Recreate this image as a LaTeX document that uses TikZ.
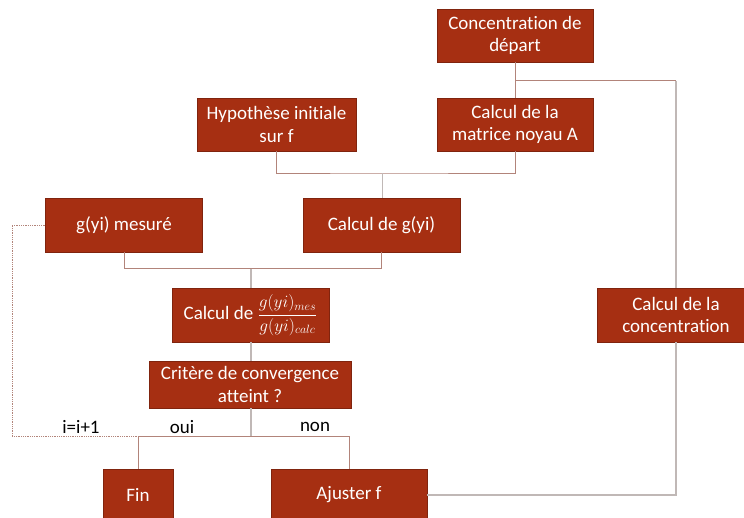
\documentclass[tikz,border=0pt]{standalone}
\usepackage{amsmath}
\usepackage{fontspec}
\setmainfont[Ligatures=NoCommon]{Carlito}
\usetikzlibrary{calc}
\definecolor{boxfill}{RGB}{166,47,18}
\definecolor{boxborder}{RGB}{128,36,14}
\definecolor{lnbrown}{RGB}{178,132,122}
\definecolor{lngrey}{RGB}{192,184,182}
\tikzset{
  box/.style={draw=boxborder, line width=0.8pt, fill=boxfill, text=white, inner sep=0pt, align=center,
    font=\fontsize{19}{22.5}\selectfont},
  lab/.style={text=black, inner sep=0pt, font=\fontsize{19}{22.5}\selectfont},
  bl/.style={draw=lnbrown, line width=0.9pt},
  gl/.style={draw=lngrey, line width=1.2pt},
  dl/.style={draw=lnbrown, line width=0.8pt, densely dotted},
}
\begin{document}
\begin{tikzpicture}[x=1pt,y=-1pt]
\clip (0,0) rectangle (744,517);
\fill[white] (0,0) rectangle (744,517);
% nodes
\node[box, minimum width=156pt, minimum height=53pt] (dep) at (515,35.5) {Concentration de\\départ};
\node[box, minimum width=159pt, minimum height=53pt] (hyp) at (276.5,124.5) {Hypothèse initiale\\sur f};
\node[box, minimum width=156pt, minimum height=53pt] (mat) at (515,124.5) {Calcul de la\\matrice noyau A};
\node[box, minimum width=157pt, minimum height=54pt] (mes) at (124,225) {g(yi) mesuré};
\node[box, minimum width=157pt, minimum height=54pt] (calc) at (381.5,225) {Calcul de g(yi)};
\node[box, minimum width=157pt, minimum height=54pt] (ratio) at (250.5,315) {Calcul de {\fontsize{17}{19}\selectfont$\dfrac{g(yi)_{mes}}{g(yi)_{calc}}$}};
\node[box, minimum width=202pt, minimum height=47pt] (crit) at (250,384.5) {Critère de convergence\\atteint ?};
\node[box, minimum width=70pt, minimum height=52pt] (fin) at (138,495) {Fin};
\node[box, minimum width=156pt, minimum height=52pt] (aju) at (349,495) {Ajuster f};
\node[box, minimum width=158pt, minimum height=54pt] (conc) at (676,315) {Calcul de la\\concentration};
% labels
\node[lab] (inc) at (81,427) {i=i+1};
\node[lab] (oui) at (182,427) {oui};
\node[lab] (non) at (315,427) {non};
% junction coordinates
\coordinate (j1) at (515,80.5);
\coordinate (j2) at (382.5,173);
\coordinate (j3) at (251,268.5);
\coordinate (j4) at (251,436.5);
% connectors
\draw[bl] (dep.south) -- (mat.north);
\draw[bl] (j1) -- (j1 -| conc.north);
\draw[gl] (j1 -| conc.north) -- (conc.north);
\draw[gl] (conc.south) |- (aju.east);
\draw[bl] (hyp.south) |- (j2) -| (mat.south);
\draw[gl] (j2) -- (j2 |- calc.north);
\draw[bl] (mes.south) |- (j3) -| (calc.south);
\draw[gl] (j3) -- (j3 |- ratio.north);
\draw[gl] (ratio.south -| j3) -- (crit.north -| j3);
\draw[gl] (crit.south -| j4) -- (j4);
\draw[bl] (fin.north) |- (j4) -| (aju.north);
\draw[dl] (mes.west) -- (12,225) -- (12,436.5) -- (fin.north |- j4);
\end{tikzpicture}
\end{document}
